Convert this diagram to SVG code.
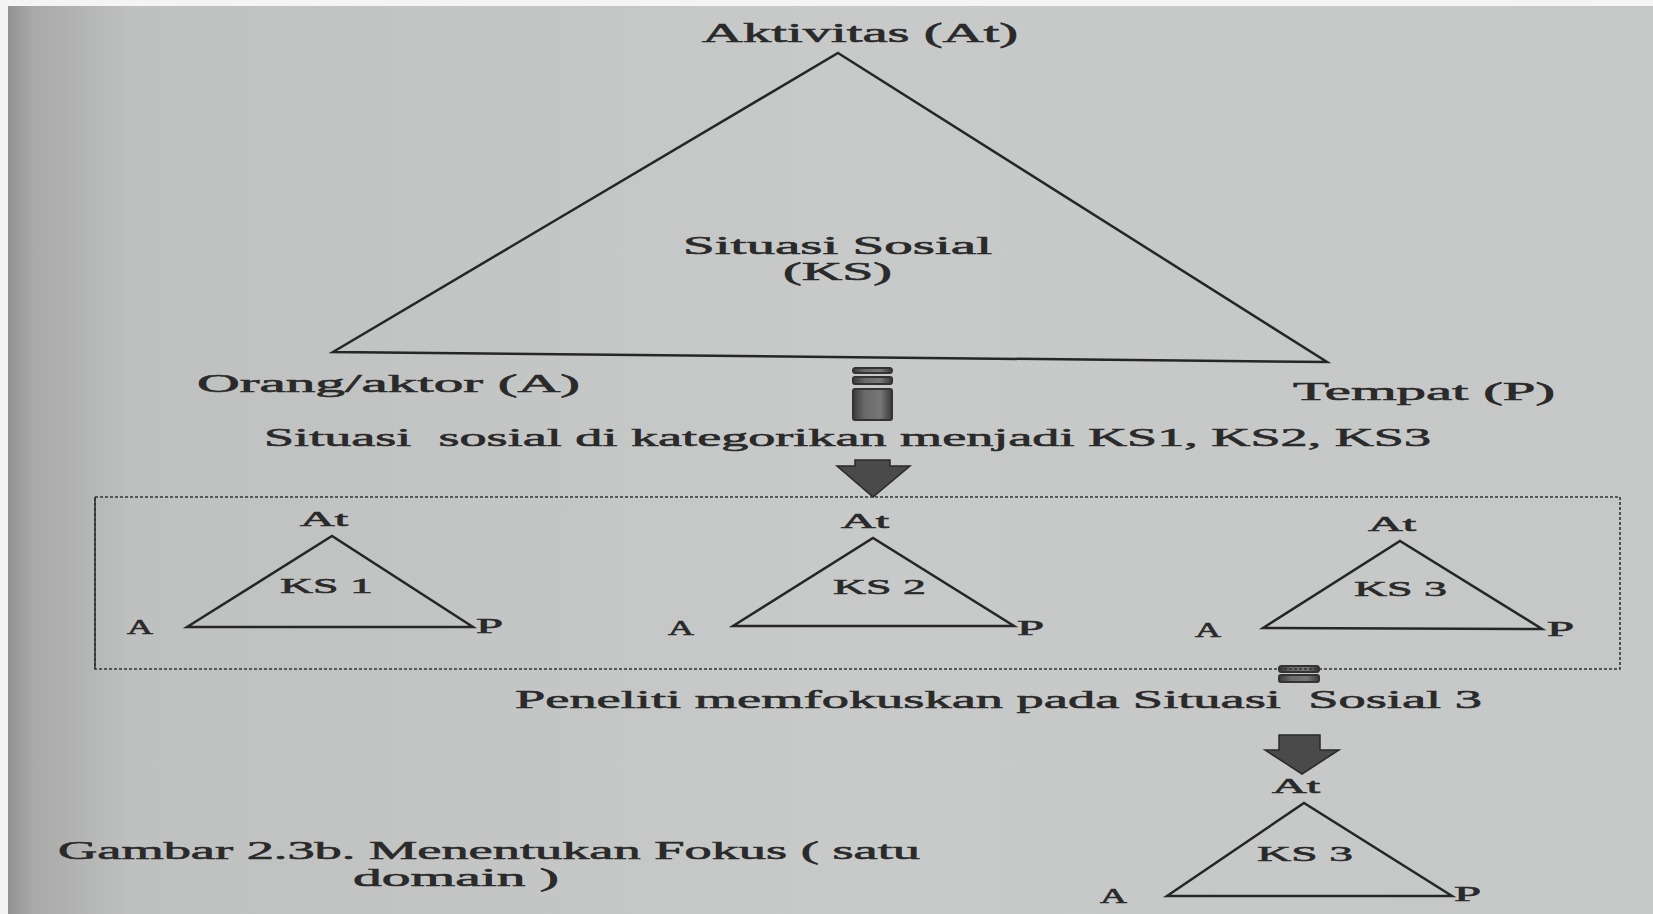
<svg xmlns="http://www.w3.org/2000/svg" width="1653" height="914" viewBox="0 0 1653 914">
  <defs>
    <linearGradient id="bg" x1="0" y1="0" x2="1653" y2="0" gradientUnits="userSpaceOnUse">
      <stop offset="0" stop-color="#8a8a8a"/>
      <stop offset="0.02" stop-color="#a9a9a9"/>
      <stop offset="0.08" stop-color="#bfc0c0"/>
      <stop offset="0.5" stop-color="#c8c9c9"/>
      <stop offset="1" stop-color="#c6c7c7"/>
    </linearGradient>
    <linearGradient id="blk" x1="0" y1="0" x2="1" y2="0">
      <stop offset="0" stop-color="#3a3a3a"/>
      <stop offset="0.3" stop-color="#6a6a6a"/>
      <stop offset="0.7" stop-color="#777"/>
      <stop offset="1" stop-color="#3a3a3a"/>
    </linearGradient>
    <style>
      .t { font-family: "Liberation Serif", "Times New Roman", serif; fill: #2a2a2a; stroke: #2a2a2a; stroke-width: 0.6; }
      .big { font-size: 26px; }
      .sm { font-size: 20px; }
      .tri { fill: none; stroke: #262626; stroke-width: 2.5; stroke-linejoin: miter; }
      .sym { fill: url(#blk); stroke: #333; stroke-width: 2; }
      .arr { fill: #4a4a4a; stroke: #2a2a2a; stroke-width: 1.5; stroke-linejoin: miter; }
      .box { fill: none; stroke: #333; stroke-width: 1.6; stroke-dasharray: 3 2; }
    </style>
  </defs>

  <rect x="0" y="0" width="1653" height="914" fill="url(#bg)"/>
  <rect x="0" y="0" width="1653" height="6" fill="#f4f4f4"/>
  <rect x="0" y="0" width="8" height="914" fill="#f4f4f4"/>

  <g id="main-situation">
    <polygon class="tri" points="838,53 1327,362 333,352"/>
    <text class="t" x="702" y="42" font-size="27" textLength="316" lengthAdjust="spacingAndGlyphs">Aktivitas (At)</text>
    <text class="t big" x="683" y="254" textLength="309" lengthAdjust="spacingAndGlyphs">Situasi Sosial</text>
    <text class="t big" x="783" y="280" textLength="109" lengthAdjust="spacingAndGlyphs">(KS)</text>
    <text class="t" x="197" y="392" font-size="25" textLength="383" lengthAdjust="spacingAndGlyphs">Orang/aktor (A)</text>
    <text class="t" x="1293" y="400" font-size="25" textLength="262" lengthAdjust="spacingAndGlyphs">Tempat (P)</text>
  </g>

  <g id="connectors">
    <g id="step1">
      <rect class="sym" x="853" y="368" width="39" height="5" rx="2.5"/>
      <rect class="sym" x="853" y="377" width="39" height="7" rx="2"/>
      <rect class="sym" x="853" y="389" width="39" height="31" rx="2"/>
      <polygon class="arr" points="855,460 890,460 890,466 910,466 873,497 837,466 855,466"/>
    </g>
    <g id="step2">
      <rect class="sym" x="1279" y="666" width="40" height="6" rx="2.5"/>
      <rect class="sym" x="1279" y="675" width="40" height="7" rx="2"/>
      <polygon class="arr" points="1279,735 1320,735 1320,750 1339,750 1302,774 1265,750 1279,750"/>
    </g>
  </g>

  <g id="label-categorized">
    <text class="t big" x="264" y="446" xml:space="preserve" textLength="1167" lengthAdjust="spacingAndGlyphs">Situasi  sosial di kategorikan menjadi KS1, KS2, KS3</text>
  </g>

  <g id="category-box">
    <rect class="box" x="95" y="497" width="1525" height="172"/>
    <line x1="95" y1="497" x2="95" y2="669" stroke="#333" stroke-width="1.6"/>
  </g>

  <g id="ks1">
    <polygon class="tri" points="187,627 332,536 473,627"/>
    <text class="t sm" x="300" y="526" textLength="48" lengthAdjust="spacingAndGlyphs">At</text>
    <text class="t" x="280" y="593" font-size="22" textLength="93" lengthAdjust="spacingAndGlyphs">KS 1</text>
    <text class="t sm" x="127" y="634" textLength="26" lengthAdjust="spacingAndGlyphs">A</text>
    <text class="t sm" x="476" y="633" textLength="27" lengthAdjust="spacingAndGlyphs">P</text>
  </g>

  <g id="ks2">
    <polygon class="tri" points="733,626 873,538 1014,626"/>
    <text class="t sm" x="841" y="528" textLength="48" lengthAdjust="spacingAndGlyphs">At</text>
    <text class="t" x="833" y="594" font-size="22" textLength="93" lengthAdjust="spacingAndGlyphs">KS 2</text>
    <text class="t sm" x="668" y="635" textLength="26" lengthAdjust="spacingAndGlyphs">A</text>
    <text class="t sm" x="1017" y="635" textLength="27" lengthAdjust="spacingAndGlyphs">P</text>
  </g>

  <g id="ks3">
    <polygon class="tri" points="1263,628 1400,541 1542,629"/>
    <text class="t sm" x="1368" y="531" textLength="48" lengthAdjust="spacingAndGlyphs">At</text>
    <text class="t" x="1354" y="596" font-size="22" textLength="93" lengthAdjust="spacingAndGlyphs">KS 3</text>
    <text class="t sm" x="1195" y="637" textLength="26" lengthAdjust="spacingAndGlyphs">A</text>
    <text class="t sm" x="1547" y="636" textLength="27" lengthAdjust="spacingAndGlyphs">P</text>
  </g>

  <g id="label-focus">
    <text class="t big" x="515" y="708" xml:space="preserve" textLength="967" lengthAdjust="spacingAndGlyphs">Peneliti memfokuskan pada Situasi  Sosial 3</text>
  </g>

  <g id="ks3-focus">
    <polygon class="tri" points="1167,896 1304,803 1452,896"/>
    <text class="t sm" x="1272" y="793" textLength="48" lengthAdjust="spacingAndGlyphs">At</text>
    <text class="t" x="1257" y="861" font-size="22" textLength="96" lengthAdjust="spacingAndGlyphs">KS 3</text>
    <text class="t sm" x="1100" y="903" textLength="27" lengthAdjust="spacingAndGlyphs">A</text>
    <text class="t sm" x="1454" y="901" textLength="27" lengthAdjust="spacingAndGlyphs">P</text>
  </g>

  <g id="caption">
    <text class="t" x="58" y="859" font-size="25" textLength="862" lengthAdjust="spacingAndGlyphs">Gambar 2.3b. Menentukan Fokus ( satu</text>
    <text class="t" x="353" y="886" font-size="25" textLength="206" lengthAdjust="spacingAndGlyphs">domain )</text>
  </g>
</svg>
